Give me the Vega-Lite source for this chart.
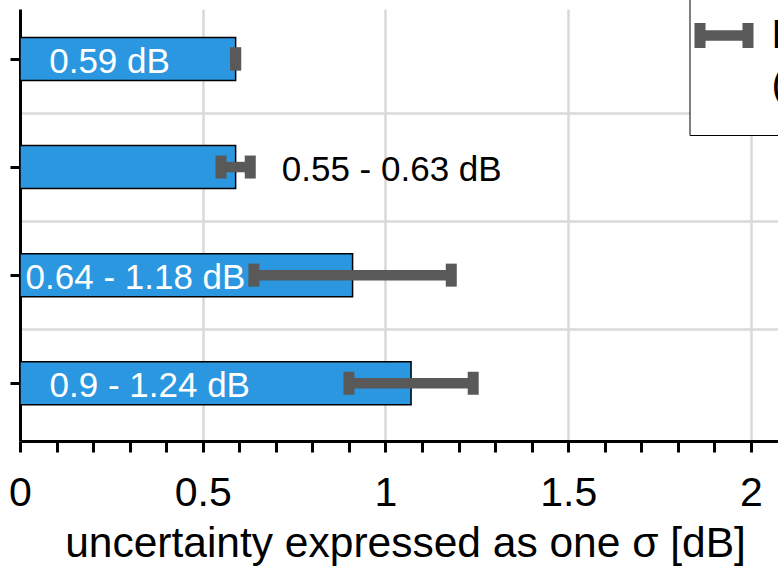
{
  "$schema": "https://vega.github.io/schema/vega-lite/v6.json",
  "width": 758,
  "height": 432,
  "autosize": {"type": "none"},
  "padding": {"left": 20, "top": 9, "right": 0, "bottom": 128},
  "background": "white",
  "config": {
    "view": {"stroke": null},
    "font": "Liberation Sans",
    "axis": {"labelOverlap": false},
    "style": {"guide-label": {"lineHeight": 50}}
  },
  "data": {
    "values": [
      {"row": 1, "value": 0.59, "lo": 0.59, "hi": 0.59, "label": "0.59 dB", "label_at": 0.245},
      {"row": 2, "value": 0.59, "lo": 0.55, "hi": 0.63, "label": "0.55 - 0.63 dB", "label_at": 1.017},
      {"row": 3, "value": 0.91, "lo": 0.64, "hi": 1.18, "label": "0.64 - 1.18 dB", "label_at": 0.316},
      {"row": 4, "value": 1.07, "lo": 0.9, "hi": 1.24, "label": "0.9 - 1.24 dB", "label_at": 0.355}
    ]
  },
  "encoding": {
    "y": {
      "field": "row",
      "type": "quantitative",
      "scale": {"domain": [0.5844, 4.4879], "reverse": true, "nice": false, "zero": false},
      "axis": {
        "title": null,
        "values": [1, 1.5, 2, 2.5, 3, 3.5, 4],
        "tickCount": 50,
        "labels": false,
        "tickSize": 10,
        "tickWidth": 3,
        "tickColor": "black",
        "tickOpacity": {"condition": {"test": "datum.value % 1 === 0", "value": 1}, "value": 0},
        "domainColor": "black",
        "domainWidth": 3,
        "grid": true,
        "gridColor": "#d9d9d9",
        "gridWidth": 2.5,
        "gridOpacity": {"condition": {"test": "datum.value % 1 !== 0", "value": 1}, "value": 0}
      }
    }
  },
  "layer": [
    {
      "mark": {"type": "bar", "orient": "horizontal", "size": 43, "fill": "#2a97e0", "stroke": "black", "strokeWidth": 1.5},
      "encoding": {
        "x": {
          "field": "value",
          "type": "quantitative",
          "stack": null,
          "scale": {"domain": [0, 2.074], "nice": false, "zero": false},
          "axis": {
            "title": "uncertainty expressed as one σ [dB]",
            "values": [0, 0.1, 0.2, 0.3, 0.4, 0.5, 0.6, 0.7, 0.8, 0.9, 1, 1.1, 1.2, 1.3, 1.4, 1.5, 1.6, 1.7, 1.8, 1.9, 2],
            "tickCount": 50,
            "labelExpr": "indexof([0, 0.5, 1, 1.5, 2], datum.value) >= 0 ? format(datum.value, '~g') : ''",
            "labelFlush": false,
            "labelOverlap": false,
            "labelFont": "Liberation Sans",
            "labelFontSize": 41,
            "labelColor": "black",
            "labelPadding": 21,
            "tickSize": 11,
            "tickWidth": 3,
            "tickColor": "black",
            "domainColor": "black",
            "domainWidth": 3,
            "grid": true,
            "gridColor": "#d9d9d9",
            "gridWidth": 2.5,
            "gridOpacity": {"condition": {"test": "indexof([0.5, 1, 1.5, 2], datum.value) >= 0", "value": 1}, "value": 0},
            "titleFont": "Liberation Sans",
            "titleFontSize": 42.5,
            "titleFontWeight": "normal",
            "titleColor": "black",
            "titleX": 385,
            "titleY": 115,
            "titleBaseline": "alphabetic",
            "titleAlign": "center"
          }
        }
      }
    },
    {
      "mark": {"type": "text", "font": "Liberation Sans", "fontSize": 35, "align": "center", "baseline": "middle", "dy": 3},
      "encoding": {
        "x": {"field": "label_at", "type": "quantitative"},
        "text": {"field": "label"},
        "color": {"condition": {"test": "datum.label_at > datum.value", "value": "black"}, "value": "white"}
      }
    },
    {
      "mark": {"type": "rule", "stroke": "#595959", "strokeWidth": 10.5, "strokeCap": "butt"},
      "encoding": {
        "x": {"field": "lo", "type": "quantitative"},
        "x2": {"field": "hi"}
      }
    },
    {
      "mark": {"type": "tick", "orient": "vertical", "thickness": 11, "size": 23, "color": "#595959", "opacity": 1},
      "encoding": {
        "x": {"field": "lo", "type": "quantitative"}
      }
    },
    {
      "mark": {"type": "tick", "orient": "vertical", "thickness": 11, "size": 23, "opacity": 1},
      "encoding": {
        "x": {"field": "hi", "type": "quantitative"},
        "color": {
          "datum": "Measurement",
          "scale": {"range": ["#595959"]},
          "legend": {
            "title": null,
            "orient": "none",
            "legendX": 669.5,
            "legendY": -32,
            "fillColor": "white",
            "strokeColor": "black",
            "padding": 29,
            "symbolType": "M-1,-0.424H-0.627V-0.18H0.627V-0.424H1V0.424H0.627V0.18H-0.627V0.424H-1Z",
            "symbolSize": 3481,
            "symbolOffset": -24,
            "symbolFillColor": "#595959",
            "symbolStrokeWidth": 0,
            "labelFont": "Liberation Sans",
            "labelFontSize": 41,
            "labelColor": "black",
            "labelBaseline": "middle",
            "labelOffset": 18,
            "labelLimit": 0,
            "labelExpr": "['Measurement', '(min - max)']",
            "encode": {
              "legend": {"update": {"strokeWidth": {"value": 2.5}}},
              "labels": {"update": {"lineHeight": {"value": 50}}},
              "symbols": {"update": {"fill": {"value": "#595959"}, "stroke": {"value": "transparent"}, "strokeWidth": {"value": 0}, "opacity": {"value": 1}}}
            }
          }
        }
      }
    }
  ]
}
